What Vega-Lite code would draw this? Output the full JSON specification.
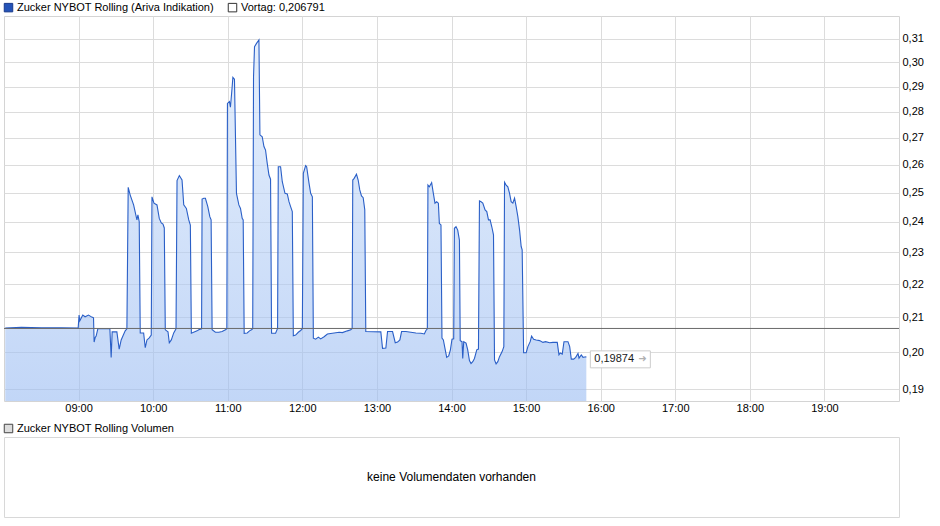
{
  "$schema": "https://vega.github.io/schema/vega-lite/v6.json",
  "padding": {"top": 1, "left": 2, "right": 0, "bottom": 0},
  "spacing": 8,
  "config": {
    "font": "Liberation Sans",
    "view": {"stroke": "#d4d4d4"},
    "axis": {"labelFont": "Liberation Sans", "labelFontSize": 11, "labelColor": "#000000", "gridColor": "#dcdcdc", "gridWidth": 1, "ticks": false, "domain": false, "title": null},
    "legend": {"labelFont": "Liberation Sans", "labelFontSize": 11, "labelColor": "#000000", "symbolType": "square", "symbolSize": 72, "symbolStrokeWidth": 1, "symbolOpacity": 1, "labelLimit": 400, "padding": 0, "labelOffset": 3}
  },
  "vconcat": [
    {
      "width": 895,
      "height": 385,
      "layer": [
        {
          "data": {"values": [
      {"t":"2024-01-01T08:01:00","p":0.2069},{"t":"2024-01-01T08:14:00","p":0.2071},{"t":"2024-01-01T08:30:00","p":0.2070},{"t":"2024-01-01T08:46:00","p":0.2070},{"t":"2024-01-01T08:59:40","p":0.2069},
      {"t":"2024-01-01T09:00:24","p":0.2107},{"t":"2024-01-01T09:00:58","p":0.2090},{"t":"2024-01-01T09:03:23","p":0.2107},{"t":"2024-01-01T09:05:14","p":0.2102},{"t":"2024-01-01T09:07:59","p":0.2107},
      {"t":"2024-01-01T09:10:39","p":0.2101},{"t":"2024-01-01T09:12:01","p":0.2099},{"t":"2024-01-01T09:12:30","p":0.2029},{"t":"2024-01-01T09:13:18","p":0.2041},{"t":"2024-01-01T09:14:07","p":0.2046},
      {"t":"2024-01-01T09:15:29","p":0.2067},{"t":"2024-01-01T09:24:07","p":0.2067},{"t":"2024-01-01T09:25:10","p":0.2067},{"t":"2024-01-01T09:26:13","p":0.1986},{"t":"2024-01-01T09:27:01","p":0.2058},
      {"t":"2024-01-01T09:30:48","p":0.2058},{"t":"2024-01-01T09:32:40","p":0.2009},{"t":"2024-01-01T09:34:16","p":0.2035},{"t":"2024-01-01T09:35:39","p":0.2046},{"t":"2024-01-01T09:37:30","p":0.2061},
      {"t":"2024-01-01T09:38:52","p":0.2067},{"t":"2024-01-01T09:39:55","p":0.2519},{"t":"2024-01-01T09:41:32","p":0.2492},{"t":"2024-01-01T09:44:16","p":0.2458},{"t":"2024-01-01T09:46:56","p":0.2407},
      {"t":"2024-01-01T09:47:44","p":0.2424},{"t":"2024-01-01T09:48:47","p":0.2401},{"t":"2024-01-01T09:49:36","p":0.2055},{"t":"2024-01-01T09:52:20","p":0.2055},{"t":"2024-01-01T09:53:38","p":0.2013},
      {"t":"2024-01-01T09:55:00","p":0.2035},{"t":"2024-01-01T09:56:51","p":0.2041},{"t":"2024-01-01T09:58:28","p":0.2049},{"t":"2024-01-01T09:59:02","p":0.2486},{"t":"2024-01-01T10:00:39","p":0.2464},
      {"t":"2024-01-01T10:03:04","p":0.2458},{"t":"2024-01-01T10:04:55","p":0.2412},{"t":"2024-01-01T10:06:32","p":0.2397},{"t":"2024-01-01T10:07:54","p":0.2393},{"t":"2024-01-01T10:08:57","p":0.2380},
      {"t":"2024-01-01T10:09:45","p":0.2064},{"t":"2024-01-01T10:11:56","p":0.2058},{"t":"2024-01-01T10:12:59","p":0.2027},{"t":"2024-01-01T10:14:36","p":0.2035},{"t":"2024-01-01T10:16:32","p":0.2055},
      {"t":"2024-01-01T10:18:23","p":0.2067},{"t":"2024-01-01T10:19:12","p":0.2543},{"t":"2024-01-01T10:21:03","p":0.2561},{"t":"2024-01-01T10:23:13","p":0.2545},{"t":"2024-01-01T10:24:36","p":0.2458},
      {"t":"2024-01-01T10:26:42","p":0.2446},{"t":"2024-01-01T10:28:38","p":0.2407},{"t":"2024-01-01T10:29:55","p":0.2390},{"t":"2024-01-01T10:30:43","p":0.2054},{"t":"2024-01-01T10:35:19","p":0.2061},
      {"t":"2024-01-01T10:36:41","p":0.2064},{"t":"2024-01-01T10:38:57","p":0.2067},{"t":"2024-01-01T10:39:21","p":0.2478},{"t":"2024-01-01T10:40:44","p":0.2481},{"t":"2024-01-01T10:42:01","p":0.2481},
      {"t":"2024-01-01T10:43:57","p":0.2452},{"t":"2024-01-01T10:45:34","p":0.2418},{"t":"2024-01-01T10:46:37","p":0.2407},{"t":"2024-01-01T10:47:25","p":0.2064},{"t":"2024-01-01T10:50:05","p":0.2057},
      {"t":"2024-01-01T10:52:49","p":0.2057},{"t":"2024-01-01T10:55:29","p":0.2059},{"t":"2024-01-01T10:58:09","p":0.2064},{"t":"2024-01-01T10:59:16","p":0.2067},{"t":"2024-01-01T10:59:45","p":0.2833},
      {"t":"2024-01-01T11:01:22","p":0.2840},{"t":"2024-01-01T11:02:10","p":0.2818},{"t":"2024-01-01T11:03:33","p":0.2900},{"t":"2024-01-01T11:04:07","p":0.2938},{"t":"2024-01-01T11:05:24","p":0.2930},
      {"t":"2024-01-01T11:07:01","p":0.2498},{"t":"2024-01-01T11:08:57","p":0.2458},{"t":"2024-01-01T11:10:15","p":0.2446},{"t":"2024-01-01T11:11:37","p":0.2412},{"t":"2024-01-01T11:12:25","p":0.2407},
      {"t":"2024-01-01T11:13:13","p":0.2054},{"t":"2024-01-01T11:15:39","p":0.2055},{"t":"2024-01-01T11:17:30","p":0.2061},{"t":"2024-01-01T11:19:07","p":0.2064},{"t":"2024-01-01T11:20:05","p":0.2067},
      {"t":"2024-01-01T11:20:44","p":0.2941},{"t":"2024-01-01T11:21:32","p":0.3067},{"t":"2024-01-01T11:23:09","p":0.3081},{"t":"2024-01-01T11:25:05","p":0.3096},{"t":"2024-01-01T11:25:53","p":0.2711},
      {"t":"2024-01-01T11:27:44","p":0.2704},{"t":"2024-01-01T11:29:07","p":0.2667},{"t":"2024-01-01T11:30:24","p":0.2654},{"t":"2024-01-01T11:31:46","p":0.2605},{"t":"2024-01-01T11:33:09","p":0.2563},
      {"t":"2024-01-01T11:34:26","p":0.2548},{"t":"2024-01-01T11:35:15","p":0.2054},{"t":"2024-01-01T11:38:28","p":0.2054},{"t":"2024-01-01T11:40:05","p":0.2068},{"t":"2024-01-01T11:40:39","p":0.2593},
      {"t":"2024-01-01T11:42:30","p":0.2593},{"t":"2024-01-01T11:43:52","p":0.2539},{"t":"2024-01-01T11:46:03","p":0.2498},{"t":"2024-01-01T11:47:54","p":0.2496},{"t":"2024-01-01T11:49:16","p":0.2469},
      {"t":"2024-01-01T11:50:34","p":0.2452},{"t":"2024-01-01T11:51:56","p":0.2435},{"t":"2024-01-01T11:52:45","p":0.2047},{"t":"2024-01-01T11:54:36","p":0.2049},{"t":"2024-01-01T11:56:46","p":0.2057},
      {"t":"2024-01-01T11:58:38","p":0.2062},{"t":"2024-01-01T12:00:00","p":0.2067},{"t":"2024-01-01T12:00:48","p":0.2569},{"t":"2024-01-01T12:02:40","p":0.2597},{"t":"2024-01-01T12:03:28","p":0.2593},
      {"t":"2024-01-01T12:05:24","p":0.2533},{"t":"2024-01-01T12:06:42","p":0.2498},{"t":"2024-01-01T12:08:04","p":0.2486},{"t":"2024-01-01T12:08:52","p":0.2040},{"t":"2024-01-01T12:10:43","p":0.2037},
      {"t":"2024-01-01T12:12:54","p":0.2043},{"t":"2024-01-01T12:14:45","p":0.2038},{"t":"2024-01-01T12:17:30","p":0.2044},{"t":"2024-01-01T12:20:10","p":0.2052},{"t":"2024-01-01T12:24:12","p":0.2054},
      {"t":"2024-01-01T12:29:36","p":0.2057},{"t":"2024-01-01T12:32:15","p":0.2056},{"t":"2024-01-01T12:36:17","p":0.2061},{"t":"2024-01-01T12:38:57","p":0.2064},{"t":"2024-01-01T12:40:05","p":0.2068},
      {"t":"2024-01-01T12:40:34","p":0.2545},{"t":"2024-01-01T12:41:42","p":0.2551},{"t":"2024-01-01T12:43:33","p":0.2566},{"t":"2024-01-01T12:44:55","p":0.2545},{"t":"2024-01-01T12:46:12","p":0.2510},
      {"t":"2024-01-01T12:47:35","p":0.2489},{"t":"2024-01-01T12:48:57","p":0.2483},{"t":"2024-01-01T12:50:14","p":0.2441},{"t":"2024-01-01T12:51:03","p":0.2059},{"t":"2024-01-01T13:03:09","p":0.2058},
      {"t":"2024-01-01T13:04:31","p":0.2011},{"t":"2024-01-01T13:07:11","p":0.2012},{"t":"2024-01-01T13:08:33","p":0.2059},{"t":"2024-01-01T13:12:35","p":0.2059},{"t":"2024-01-01T13:14:45","p":0.2027},
      {"t":"2024-01-01T13:16:37","p":0.2029},{"t":"2024-01-01T13:18:28","p":0.2035},{"t":"2024-01-01T13:19:50","p":0.2059},{"t":"2024-01-01T13:23:18","p":0.2059},{"t":"2024-01-01T13:27:20","p":0.2057},
      {"t":"2024-01-01T13:31:22","p":0.2055},{"t":"2024-01-01T13:35:24","p":0.2054},{"t":"2024-01-01T13:38:09","p":0.2052},{"t":"2024-01-01T13:39:26","p":0.2062},{"t":"2024-01-01T13:40:34","p":0.2067},
      {"t":"2024-01-01T13:41:03","p":0.2527},{"t":"2024-01-01T13:42:11","p":0.2521},{"t":"2024-01-01T13:44:02","p":0.2536},{"t":"2024-01-01T13:45:24","p":0.2498},{"t":"2024-01-01T13:46:42","p":0.2464},
      {"t":"2024-01-01T13:48:04","p":0.2469},{"t":"2024-01-01T13:49:26","p":0.2464},{"t":"2024-01-01T13:50:14","p":0.2395},{"t":"2024-01-01T13:51:32","p":0.2390},{"t":"2024-01-01T13:52:20","p":0.2040},
      {"t":"2024-01-01T13:53:28","p":0.2035},{"t":"2024-01-01T13:54:45","p":0.2011},{"t":"2024-01-01T13:56:08","p":0.1986},{"t":"2024-01-01T13:57:44","p":0.1990},{"t":"2024-01-01T13:59:07","p":0.2007},
      {"t":"2024-01-01T14:00:24","p":0.2037},{"t":"2024-01-01T14:01:46","p":0.2038},{"t":"2024-01-01T14:02:20","p":0.2379},{"t":"2024-01-01T14:03:38","p":0.2384},{"t":"2024-01-01T14:05:00","p":0.2373},
      {"t":"2024-01-01T14:06:22","p":0.2340},{"t":"2024-01-01T14:07:01","p":0.2033},{"t":"2024-01-01T14:08:28","p":0.2030},{"t":"2024-01-01T14:09:02","p":0.1983},{"t":"2024-01-01T14:09:50","p":0.2030},
      {"t":"2024-01-01T14:11:42","p":0.2026},{"t":"2024-01-01T14:13:03","p":0.2007},{"t":"2024-01-01T14:14:26","p":0.1977},{"t":"2024-01-01T14:15:43","p":0.1969},{"t":"2024-01-01T14:17:06","p":0.1974},
      {"t":"2024-01-01T14:18:28","p":0.1983},{"t":"2024-01-01T14:20:19","p":0.2007},{"t":"2024-01-01T14:21:41","p":0.2009},{"t":"2024-01-01T14:22:30","p":0.2472},{"t":"2024-01-01T14:23:47","p":0.2469},
      {"t":"2024-01-01T14:25:10","p":0.2464},{"t":"2024-01-01T14:27:01","p":0.2441},{"t":"2024-01-01T14:28:23","p":0.2435},{"t":"2024-01-01T14:29:45","p":0.2407},{"t":"2024-01-01T14:31:03","p":0.2407},
      {"t":"2024-01-01T14:32:25","p":0.2384},{"t":"2024-01-01T14:33:47","p":0.2357},{"t":"2024-01-01T14:34:36","p":0.1979},{"t":"2024-01-01T14:35:53","p":0.1968},{"t":"2024-01-01T14:37:15","p":0.1974},
      {"t":"2024-01-01T14:38:38","p":0.1988},{"t":"2024-01-01T14:40:44","p":0.2002},{"t":"2024-01-01T14:42:06","p":0.2016},{"t":"2024-01-01T14:42:40","p":0.2537},{"t":"2024-01-01T14:43:57","p":0.2527},
      {"t":"2024-01-01T14:45:19","p":0.2521},{"t":"2024-01-01T14:46:42","p":0.2498},{"t":"2024-01-01T14:47:59","p":0.2469},{"t":"2024-01-01T14:49:21","p":0.2464},{"t":"2024-01-01T14:50:43","p":0.2481},
      {"t":"2024-01-01T14:52:01","p":0.2452},{"t":"2024-01-01T14:53:23","p":0.2418},{"t":"2024-01-01T14:54:46","p":0.2373},{"t":"2024-01-01T14:56:03","p":0.2319},{"t":"2024-01-01T14:56:51","p":0.2308},
      {"t":"2024-01-01T14:58:01","p":0.1999},{"t":"2024-01-01T15:00:05","p":0.1999},{"t":"2024-01-01T15:01:27","p":0.2016},{"t":"2024-01-01T15:03:18","p":0.2030},{"t":"2024-01-01T15:04:26","p":0.2046},
      {"t":"2024-01-01T15:06:03","p":0.2037},{"t":"2024-01-01T15:08:08","p":0.2035},{"t":"2024-01-01T15:10:53","p":0.2033},{"t":"2024-01-01T15:13:33","p":0.2028},{"t":"2024-01-01T15:15:43","p":0.2030},
      {"t":"2024-01-01T15:18:57","p":0.2027},{"t":"2024-01-01T15:21:37","p":0.2028},{"t":"2024-01-01T15:25:05","p":0.2028},{"t":"2024-01-01T15:26:27","p":0.1993},{"t":"2024-01-01T15:27:30","p":0.1998},
      {"t":"2024-01-01T15:29:06","p":0.1995},{"t":"2024-01-01T15:30:29","p":0.2030},{"t":"2024-01-01T15:33:42","p":0.2030},{"t":"2024-01-01T15:35:05","p":0.2016},{"t":"2024-01-01T15:36:22","p":0.1981},
      {"t":"2024-01-01T15:38:18","p":0.1981},{"t":"2024-01-01T15:39:55","p":0.1986},{"t":"2024-01-01T15:41:46","p":0.1997},{"t":"2024-01-01T15:42:35","p":0.1984},{"t":"2024-01-01T15:44:26","p":0.1993},
      {"t":"2024-01-01T15:45:48","p":0.1986},{"t":"2024-01-01T15:47:11","p":0.1987},{"t":"2024-01-01T15:48:28","p":0.19874}
          ]},
          "layer": [
            {
              "mark": {"type": "area", "interpolate": "linear", "fillOpacity": 0.6,
                "fill": {"gradient": "linear", "x1": 0, "y1": 0, "x2": 0, "y2": 1,
                  "stops": [{"offset": 0, "color": "#d4e4fa"}, {"offset": 1, "color": "#99bbf2"}]}},
              "encoding": {
                "x": {"field": "t", "type": "temporal",
                  "scale": {"domain": [{"year": 2024, "month": 1, "date": 1, "hours": 8}, {"year": 2024, "month": 1, "date": 1, "hours": 20}]},
                  "axis": {"orient": "bottom", "format": "%H:%M", "labelPadding": 1, "grid": true,
                    "values": [
                      {"year": 2024, "month": 1, "date": 1, "hours": 9}, {"year": 2024, "month": 1, "date": 1, "hours": 10},
                      {"year": 2024, "month": 1, "date": 1, "hours": 11}, {"year": 2024, "month": 1, "date": 1, "hours": 12},
                      {"year": 2024, "month": 1, "date": 1, "hours": 13}, {"year": 2024, "month": 1, "date": 1, "hours": 14},
                      {"year": 2024, "month": 1, "date": 1, "hours": 15}, {"year": 2024, "month": 1, "date": 1, "hours": 16},
                      {"year": 2024, "month": 1, "date": 1, "hours": 17}, {"year": 2024, "month": 1, "date": 1, "hours": 18},
                      {"year": 2024, "month": 1, "date": 1, "hours": 19}]}},
                "y": {"field": "p", "type": "quantitative",
                  "scale": {"type": "log", "domain": [0.18684, 0.32013], "nice": false, "zero": false},
                  "axis": {"orient": "right", "grid": true, "labelPadding": 3, "format": ".2f",
                    "labelExpr": "replace(datum.label, '.', ',')",
                    "values": [0.19, 0.2, 0.21, 0.22, 0.23, 0.24, 0.25, 0.26, 0.27, 0.28, 0.29, 0.3, 0.31]}},
                "y2": {"datum": 0.18684}
              }
            },
            {
              "mark": {"type": "line", "interpolate": "linear", "color": "#2a5fc7", "strokeWidth": 1.1},
              "encoding": {
                "x": {"field": "t", "type": "temporal"},
                "y": {"field": "p", "type": "quantitative"}
              }
            }
          ]
        },
        {
          "data": {"values": [{"v": 0.206791}]},
          "mark": {"type": "rule", "color": "#6a6a6a", "strokeWidth": 1},
          "encoding": {"y": {"field": "v", "type": "quantitative"}}
        },
        {
          "data": {"values": [{"t": "2024-01-01T15:48:28", "p": 0.19874, "label": "0,19874"}]},
          "layer": [
            {
              "mark": {"type": "point", "shape": "M-1,-0.283H1V0.283H-1Z", "size": 3600, "filled": true, "fill": "#ffffff", "stroke": "#cccccc", "strokeWidth": 1, "opacity": 1, "xOffset": 34, "yOffset": 2.5},
              "encoding": {
                "x": {"field": "t", "type": "temporal"},
                "y": {"field": "p", "type": "quantitative"}
              }
            },
            {
              "mark": {"type": "text", "align": "left", "baseline": "middle", "dx": 8, "dy": 2.5, "fontSize": 11, "color": "#1a1a1a", "font": "Liberation Sans"},
              "encoding": {
                "x": {"field": "t", "type": "temporal"},
                "y": {"field": "p", "type": "quantitative"},
                "text": {"field": "label"}
              }
            },
            {
              "mark": {"type": "text", "text": "➜", "align": "left", "baseline": "middle", "dx": 52, "dy": 2.5, "fontSize": 10, "color": "#b0b0b0", "font": "DejaVu Sans"},
              "encoding": {
                "x": {"field": "t", "type": "temporal"},
                "y": {"field": "p", "type": "quantitative"}
              }
            }
          ]
        },
        {
          "data": {"values": []},
          "mark": {"type": "point", "filled": true, "shape": "square", "opacity": 1, "strokeWidth": 1},
          "encoding": {
            "fill": {"field": "s", "type": "nominal",
              "scale": {"domain": ["Zucker NYBOT Rolling (Ariva Indikation)", "Vortag: 0,206791"], "range": ["#2453b8", "#ffffff"]},
              "legend": {"title": null, "orient": "none", "direction": "horizontal", "legendX": -1, "legendY": -14, "columnPadding": 12}},
            "stroke": {"field": "s", "type": "nominal",
              "scale": {"domain": ["Zucker NYBOT Rolling (Ariva Indikation)", "Vortag: 0,206791"], "range": ["#1a3a8a", "#333333"]},
              "legend": {"title": null, "orient": "none", "direction": "horizontal", "legendX": -1, "legendY": -14, "columnPadding": 12}}
          }
        }
      ]
    },
    {
      "width": 895,
      "height": 80,
      "view": {"stroke": "#d8d8d8"},
      "layer": [
        {
          "data": {"values": [{"msg": "keine Volumendaten vorhanden"}]},
          "mark": {"type": "text", "fontSize": 12, "color": "#000000", "font": "Liberation Sans", "align": "center", "baseline": "middle"},
          "encoding": {"text": {"field": "msg"}}
        },
        {
          "data": {"values": []},
          "mark": {"type": "point", "filled": true, "shape": "square", "opacity": 1, "strokeWidth": 1},
          "encoding": {
            "fill": {"field": "s", "type": "nominal",
              "scale": {"domain": ["Zucker NYBOT Rolling Volumen"], "range": ["#dddddd"]},
              "legend": {"title": null, "orient": "none", "direction": "horizontal", "legendX": -1, "legendY": -14}},
            "stroke": {"field": "s", "type": "nominal",
              "scale": {"domain": ["Zucker NYBOT Rolling Volumen"], "range": ["#444444"]},
              "legend": {"title": null, "orient": "none", "direction": "horizontal", "legendX": -1, "legendY": -14}}
          }
        }
      ]
    }
  ],
  "resolve": {"scale": {"fill": "independent", "stroke": "independent"}, "legend": {"fill": "independent", "stroke": "independent"}}
}
